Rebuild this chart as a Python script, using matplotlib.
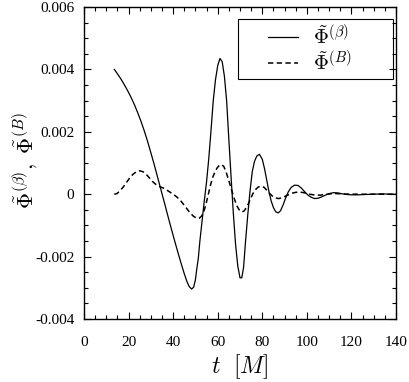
import matplotlib
matplotlib.use('Agg')
import matplotlib.pyplot as plt
from matplotlib.ticker import MultipleLocator, FixedLocator
from matplotlib.patches import Rectangle

plt.rcParams['font.family'] = ['Liberation Serif', 'DejaVu Serif']
plt.rcParams['mathtext.fontset'] = 'cm'

# values (y in units of 1e-3)
t_beta = [13.6, 15, 16.5, 18, 19.5, 21, 22.5, 24, 25.5, 27, 28.5, 30, 31.5, 33, 34.5,
          36, 37.5, 39, 40.5, 42, 43.5, 45, 46.2, 47.2, 48.3, 49.2, 50.0, 50.6, 51.3, 52,
          53, 54, 55, 56, 57, 58, 59, 60, 61, 62, 63, 64, 65, 66, 67, 68, 69, 70, 70.8,
          71.6, 72.5, 73.5, 74.5, 75.5, 76.5, 77.5, 78.7, 80, 81, 82, 83, 84, 85, 86,
          87.1, 88.2, 89.3, 90.5, 91.7, 93, 94.5, 96, 97.5, 99, 100.5, 102, 103.5, 105,
          106.5, 108, 110, 112, 114, 116, 118, 120, 123, 126, 130, 134, 137, 140]
phi_beta = [4.00, 3.86, 3.70, 3.52, 3.33, 3.12, 2.89, 2.63, 2.35, 2.04, 1.70, 1.33, 0.95, 0.55, 0.15,
            -0.25, -0.66, -1.06, -1.45, -1.83, -2.20, -2.55, -2.80, -2.96, -3.04, -2.98, -2.74, -2.40, -2.05, -1.50,
            -0.85, -0.20, 0.40, 1.15, 2.05, 3.00, 3.67, 4.12, 4.35, 4.25, 3.78, 3.00, 1.75, 0.55, -0.60, -1.60, -2.30, -2.68, -2.68,
            -2.35, -1.50, -0.65, 0.10, 0.72, 1.05, 1.22, 1.28, 1.12, 0.82, 0.45, 0.08, -0.22, -0.43, -0.56,
            -0.60, -0.53, -0.35, -0.12, 0.08, 0.22, 0.29, 0.28, 0.20, 0.08, -0.03, -0.10, -0.14, -0.13,
            -0.09, -0.04, 0.02, 0.05, 0.04, 0.01, -0.01, -0.02, -0.02, -0.01, 0.0, 0.01, 0.0, 0.0]

t_B = [13.6, 14.8, 16, 17.5, 19, 20.5, 22, 23.5, 25, 26.5, 28, 29.5, 31, 32.5, 34, 35.5,
       37, 38.5, 40, 41.5, 43, 44.5, 46, 47.5, 49, 50.5, 51.7, 52.8, 53.8, 54.8, 55.8,
       56.8, 57.8, 58.8, 59.8, 60.8, 61.8, 62.8, 63.8, 64.8, 65.8, 66.8, 67.8, 68.8,
       69.8, 70.8, 71.8, 72.8, 73.8, 74.8, 75.8, 77, 78.2, 79.5, 80.8, 82, 83.2, 84.5,
       86, 87.3, 88.7, 90.2, 91.7, 93.2, 95, 96.8, 98.5, 100.2, 102, 104, 106, 108,
       110.5, 113, 116, 120, 125, 130, 135, 140]
phi_B = [0.0, 0.02, 0.10, 0.22, 0.37, 0.52, 0.64, 0.72, 0.75, 0.72, 0.63, 0.51, 0.39, 0.30, 0.24, 0.20,
         0.14, 0.07, 0.0, -0.08, -0.18, -0.31, -0.45, -0.59, -0.70, -0.77, -0.77, -0.70, -0.55, -0.30, 0.0,
         0.30, 0.55, 0.72, 0.85, 0.93, 0.95, 0.88, 0.70, 0.48, 0.24, 0.0, -0.22, -0.40,
         -0.52, -0.57, -0.54, -0.44, -0.30, -0.14, 0.02, 0.15, 0.23, 0.26, 0.22, 0.13, 0.03, -0.06,
         -0.12, -0.14, -0.12, -0.07, -0.02, 0.03, 0.06, 0.07, 0.05, 0.02, -0.01, -0.03, -0.03, -0.01,
         0.01, 0.02, 0.01, 0.0, 0.0, 0.0, 0.0, 0.0]

yticks = [-0.004, -0.002, 0, 0.002, 0.004, 0.006]
ylabels = ['-0.004', '-0.002', '0', '0.002', '0.004', '0.006']
xticks = [0, 20, 40, 60, 80, 100, 120, 140]

fig = plt.figure(figsize=(4.09, 3.82), dpi=100)
ax = fig.add_axes([84/409, 1-319/382, 312/409, 312/382])

ax.plot(t_beta, [v*1e-3 for v in phi_beta], color='black', lw=0.9,
        label=r'$\tilde{\Phi}^{(\beta)}$')
ax.plot(t_B, [v*1e-3 for v in phi_B], color='black', lw=1.1, ls=(0, (3.5, 2.2)),
        label=r'$\tilde{\Phi}^{(B)}$')

ax.set_xlim(0, 140)
ax.set_ylim(-0.004, 0.006)
ax.xaxis.set_major_locator(FixedLocator(xticks))
ax.xaxis.set_minor_locator(MultipleLocator(5))
ax.yaxis.set_major_locator(FixedLocator(yticks))
ax.yaxis.set_minor_locator(MultipleLocator(0.0005))
ax.set_yticklabels(ylabels)
ax.set_xticklabels([str(x) for x in xticks])
ax.tick_params(which='both', direction='in', top=True, right=True, width=0.8)
ax.tick_params(which='major', length=5, labelsize=11)
ax.tick_params(which='minor', length=3)
ax.tick_params(axis='x', pad=12.5)
ax.tick_params(axis='y', pad=7)
for s in ax.spines.values():
    s.set_linewidth(1.0)

ax.set_xlabel(r'$t\ \ [M]$', fontsize=17)
ax.xaxis.set_label_coords(0.5, -0.105)
ax.set_ylabel(r'$\tilde{\Phi}^{(\beta)},\ \tilde{\Phi}^{(B)}$', fontsize=16)
ax.yaxis.set_label_coords(-0.14, 0.51)

# legend frame drawn on its own, entries placed inside it
ax.add_patch(Rectangle(((238-84)/312, (319-79)/312), 155/312, 60/312, transform=ax.transAxes,
                       fill=False, edgecolor='black', lw=0.8, zorder=5))
leg = ax.legend(loc='upper left', bbox_to_anchor=((268-84)/312, (319-25)/312),
                fontsize=15, frameon=False, handlelength=1.45, handletextpad=0.7,
                borderpad=0, labelspacing=0.08, borderaxespad=0)

fig.savefig('out.png', dpi=100)
